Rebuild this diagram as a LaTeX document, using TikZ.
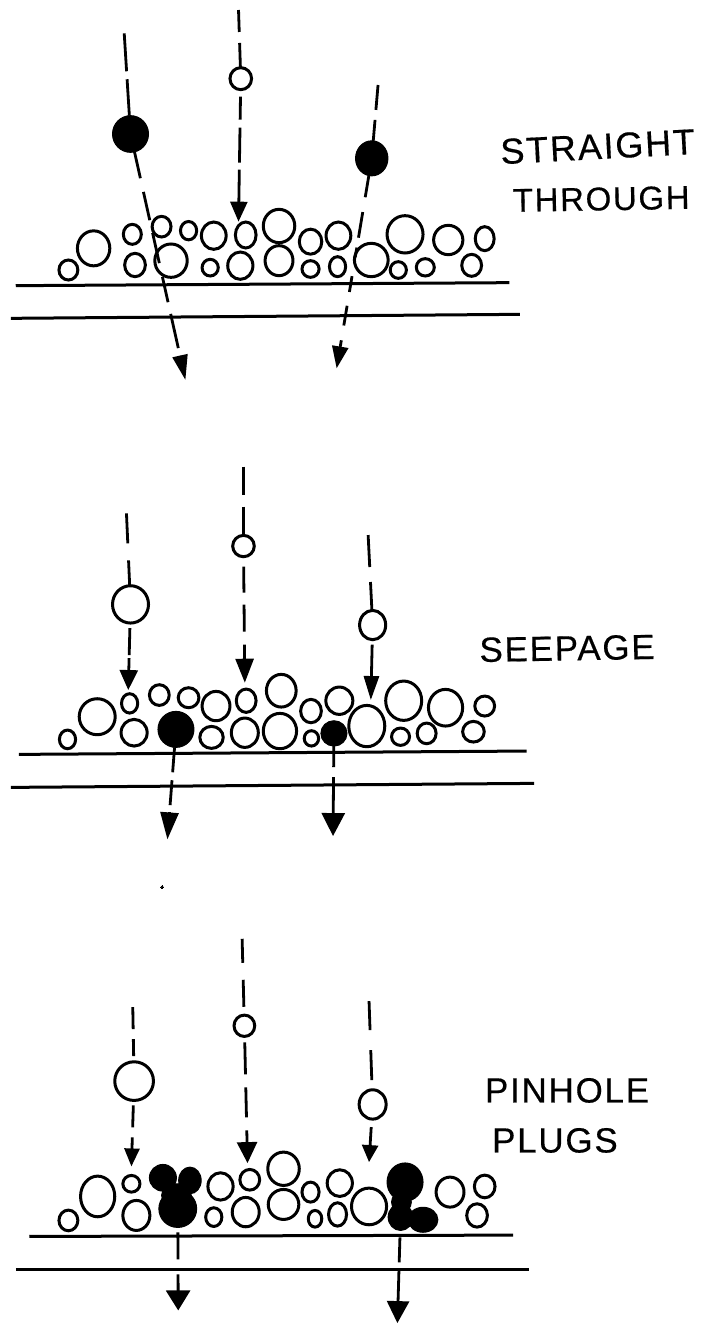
\documentclass[tikz,border=0pt]{standalone}
\usepackage{fontspec}
\setmainfont{Liberation Sans}
\usetikzlibrary{arrows.meta,shapes.geometric}
\tikzset{
  x=0.45pt, y=-0.3333pt,
  grain/.style={ellipse, draw=black, line width=3pt, fill=white, inner sep=0pt, outer sep=0pt},
  solid grain/.style={ellipse, draw=black, line width=1pt, fill=black, inner sep=0pt, outer sep=0pt},
  fall/.style={draw=black, line width=2.8pt},
  layer/.style={draw=black, line width=3pt},
  tipped/.style 2 args={fall, -{Triangle[length=#1pt, width=#2pt]}},
  sz/.style 2 args={minimum width=#1*0.45pt, minimum height=#2*0.3333pt},
  hand/.style={inner sep=0pt, font=\fontsize{#1}{#1}\selectfont\addfontfeature{LetterSpace=5,FakeBold=0.4}},
}
\newcommand{\grains}[2]{%
  \foreach \cx/\cy/\w/\h [count=\i] in {#2}
    \node[grain, sz={\w}{\h}] (#1\i) at (\cx,\cy) {};
}
\begin{document}
\begin{tikzpicture}
\useasboundingbox (0,0) rectangle (1560,3981);

% Straight through
\begin{scope}
  \coordinate (l1a) at (35,857); \coordinate (l1b) at (1132,848);
  \coordinate (l2a) at (24,955); \coordinate (l2b) at (1155,943);
  \coordinate (sa) at (276,100); \coordinate (sb) at (530,30); \coordinate (sc) at (840,255);
  \coordinate (ea) at (412,1140); \coordinate (eb) at (530,665); \coordinate (ec) at (748,1105);
  \draw[layer] (l1a) -- (l1b);
  \draw[layer] (l2a) -- (l2b);
  \node[solid grain, sz={80}{110}] (fa) at (290,402) {};
  \node[grain, sz={48}{66}] (fb) at (535,236) {};
  \node[solid grain, sz={72}{105}] (fc) at (826,475) {};
  \grains{g}{152/810/42/60, 208/745/72/105, 294/703/40/60, 300/795/46/70, 359/680/42/62,
    419/692/36/55, 380/782/72/100, 475/707/55/82, 467/803/36/50, 534/797/56/82, 546/705/46/78,
    620/678/70/100, 620/782/62/90, 690/725/50/75, 690/807/38/50, 752/707/55/82, 750/800/36/60,
    825/780/75/100, 900/703/80/112, 885/810/36/50, 945/802/40/52, 996/720/65/88, 1077/716/42/72,
    1048/796/44/66}
  \draw[fall, dash pattern=on 38pt off 8pt on 60pt] (sa) -- (fa);
  \draw[tipped={25}{15}, dash pattern=on 27pt off 14pt on 29pt off 13pt on 31pt off 14pt on 26pt off 12pt on 35pt off 8pt on 30pt] (fa) -- (ea);
  \draw[fall, dash pattern=on 22pt off 11pt on 30pt] (sb) -- (fb);
  \draw[tipped={20}{17}, dash pattern=on 0pt off 7pt on 23pt off 8pt on 35pt off 7pt on 40pt] (fb) -- (eb);
  \draw[fall, dash pattern=on 25pt off 10pt on 30pt] (sc) -- (fc);
  \draw[tipped={22}{16}, dash pattern=on 22pt off 15pt on 26pt off 10pt on 10pt off 19pt on 16pt off 14pt on 20pt off 15pt on 40pt] (fc) -- (ec);
  \node[hand=36, rotate=3] (t1) at (1328,440) {STRAIGHT};
  \node[hand=33, rotate=1] (t2) at (1336,597) {THROUGH};
\end{scope}

% Seepage
\begin{scope}[yshift=-450pt]
  \coordinate (m1a) at (42,913); \coordinate (m1b) at (1170,903);
  \coordinate (m2a) at (24,1012); \coordinate (m2b) at (1187,1000);
  \coordinate (ma) at (281,190); \coordinate (mb) at (541,50); \coordinate (mc) at (818,255);
  \coordinate (na) at (285,720); \coordinate (nb) at (544,698); \coordinate (nc) at (824,750);
  \coordinate (nd) at (372,1168); \coordinate (ne) at (740,1158);
  \draw[layer] (m1a) -- (m1b);
  \draw[layer] (m2a) -- (m2b);
  \node[grain, sz={80}{112}] (pa) at (290,463) {};
  \node[grain, sz={48}{64}] (pb) at (541,288) {};
  \node[grain, sz={58}{88}] (pc) at (828,525) {};
  \node[solid grain, sz={80}{108}] (pd) at (391,838) {};
  \grains{h}{150/868/36/56, 216/800/80/108, 288/760/36/58, 298/848/58/80, 354/735/44/62,
    419/743/46/60, 480/768/62/88, 470/862/52/66, 547/752/44/70, 544/848/60/88, 625/722/66/98,
    622/843/74/106, 691/783/46/70, 692/865/32/46, 754/752/60/82, 815/828/80/124, 897/752/80/118,
    890/860/40/52, 948/850/42/62, 990/773/76/110, 1077/768/44/60, 1052/845/48/62}
  \node[solid grain, sz={58}{76}] (pe) at (742,850) {};
  \draw[fall, dash pattern=on 30pt off 17pt on 30pt] (ma) -- (pa);
  \draw[tipped={20}{18}, dash pattern=on 0pt off 5pt on 27pt off 3pt on 40pt] (pa) -- (na);
  \draw[fall, dash pattern=on 28pt off 12pt on 30pt] (mb) -- (pb);
  \draw[tipped={24}{18}, dash pattern=on 0pt off 10pt on 26pt off 12pt on 27pt off 13pt on 50pt] (pb) -- (nb);
  \draw[fall, dash pattern=on 32pt off 15pt on 30pt] (mc) -- (pc);
  \draw[tipped={24}{15}, dash pattern=on 0pt off 5pt on 60pt] (pc) -- (nc);
  \draw[tipped={27}{18}, dash pattern=on 25pt off 8pt on 25pt off 7pt on 40pt] (pd) -- (nd);
  \draw[tipped={23}{23}, dash pattern=on 21pt off 10pt on 60pt] (pe) -- (ne);
  \node[hand=35, rotate=1] (t3) at (1260,595) {SEEPAGE};
\end{scope}

% Speck left on the sheet between the panels
\node[solid grain, minimum width=3pt, minimum height=3pt, line width=0pt] (speck) at (360,2661) {};

% Pinhole plugs
\begin{scope}[yshift=-927pt]
  \coordinate (r1a) at (65,928); \coordinate (r1b) at (1140,924);
  \coordinate (r2a) at (35,1027); \coordinate (r2b) at (1175,1027);
  \coordinate (ra) at (295,240); \coordinate (rb) at (538,35); \coordinate (rc) at (820,222);
  \coordinate (qa) at (292,718); \coordinate (qb) at (550,708); \coordinate (qc) at (820,705);
  \coordinate (qd) at (396,1150); \coordinate (qe) at (883,1188);
  \draw[layer] (r1a) -- (r1b);
  \draw[layer] (r2a) -- (r2b);
  \node[grain, sz={86}{116}] (ua) at (298,462) {};
  \node[grain, sz={46}{64}] (ub) at (543,296) {};
  \node[grain, sz={60}{88}] (uc) at (828,532) {};
  \grains{k}{152/880/42/62, 217/808/76/122, 292/770/38/50, 303/865/60/90, 490/778/56/82,
    475/870/36/56, 555/758/44/62, 546/855/60/88, 630/725/70/100, 630/832/68/90, 690/795/38/60,
    700/875/30/50, 755/768/56/80, 750/862/40/70, 820/838/78/110, 1000/795/62/90, 1077/778/46/68,
    1060/865/46/70}
  % Clump blocking the left pinhole
  \node[solid grain, sz={84}{112}] (va) at (395,845) {};
  \node[solid grain, sz={60}{80}] (vb) at (362,752) {};
  \node[solid grain, sz={50}{80}] (vc) at (422,760) {};
  \node[solid grain, sz={66}{70}] (vd) at (392,805) {};
  % Clump blocking the right pinhole
  \node[solid grain, sz={80}{115}] (wa) at (900,765) {};
  \node[solid grain, sz={55}{80}] (wb) at (890,870) {};
  \node[solid grain, sz={66}{75}] (wc) at (940,878) {};
  \node[solid grain, sz={44}{60}] (wd) at (892,825) {};
  \draw[fall, dash pattern=on 22pt off 10pt on 17pt off 30pt] (ra) -- (ua);
  \draw[tipped={18}{15}, dash pattern=on 0pt off 5pt on 22pt off 10pt on 40pt] (ua) -- (qa);
  \draw[fall, dash pattern=on 24pt off 17pt on 27pt off 20pt] (rb) -- (ub);
  \draw[tipped={21}{20}, dash pattern=on 0pt off 6pt on 32pt off 13pt on 30pt off 13pt on 40pt] (ub) -- (qb);
  \draw[fall, dash pattern=on 29pt off 20pt on 30pt off 10pt] (rc) -- (uc);
  \draw[tipped={17}{16}, dash pattern=on 0pt off 8pt on 40pt] (uc) -- (qc);
  \draw[tipped={20}{24}, dash pattern=on 0pt off 5pt on 27pt off 15pt on 40pt] (va) -- (qd);
  \draw[tipped={22}{22}, dash pattern=on 0pt off 7pt on 25pt off 8pt on 60pt] (wb) -- (qe);
  \node[hand=35] (t4) at (1260,490) {PINHOLE};
  \node[hand=35] (t5) at (1233,640) {PLUGS};
\end{scope}
\end{tikzpicture}
\end{document}
